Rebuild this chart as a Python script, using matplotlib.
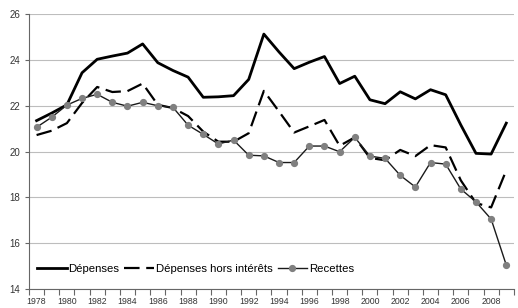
import matplotlib.pyplot as plt
import numpy as np

plt.rcParams['font.family'] = ['Liberation Sans', 'DejaVu Sans']

years = np.arange(1978, 2010)

depenses = [21.35, 21.68, 22.04, 23.44, 24.03, 24.17, 24.3, 24.7, 23.88, 23.54,
            23.25, 22.37, 22.39, 22.44, 23.15, 25.13, 24.35, 23.62, 23.9, 24.15,
            22.97, 23.29, 22.26, 22.09, 22.61, 22.3, 22.7, 22.48, 21.16, 19.92,
            19.89, 21.24]

hors_interets = [20.72, 20.91, 21.24, 22.12, 22.82, 22.6, 22.64, 22.97, 22.04, 21.9,
                 21.55, 20.87, 20.43, 20.43, 20.8, 22.65, 21.75, 20.83, 21.1, 21.38,
                 20.25, 20.62, 19.72, 19.62, 20.07, 19.8, 20.28, 20.18, 18.74, 17.75,
                 17.56, 19.18]

recettes = [21.06, 21.5, 22.03, 22.32, 22.5, 22.15, 21.98, 22.15, 22.0, 21.93,
            21.15, 20.75, 20.33, 20.5, 19.84, 19.81, 19.52, 19.52, 20.24, 20.24,
            19.99, 20.62, 19.8, 19.7, 18.96, 18.45, 19.52, 19.45, 18.36, 17.8,
            17.05, 15.04]

fig = plt.figure(figsize=(5.18, 3.08), dpi=100)
ax = fig.add_axes([0.056, 0.062, 0.936, 0.892])

ax.plot(years, depenses, color='black', lw=2.0, label='Dépenses', zorder=3)
ax.plot(years, hors_interets, color='black', lw=1.6, dashes=(7, 3),
        label='Dépenses hors intérêts', zorder=3)
ax.plot(years, recettes, color='#1a1a1a', lw=1.0, marker='o', markersize=4.2,
        markerfacecolor='#808080', markeredgecolor='#808080',
        label='Recettes', zorder=4)

ax.set_xlim(1977.5, 2009.5)
ax.set_ylim(14, 26)
ax.set_yticks(np.arange(14, 27, 2))
ax.yaxis.grid(True, color='#bdbdbd', lw=0.8)
ax.set_axisbelow(True)

# tick marks between categories, labels on every other year
ax.set_xticks(np.arange(1977.5, 2010, 1))
ax.set_xticklabels([])
ax.set_xticks(years[::2], minor=True)
ax.set_xticklabels([str(y) for y in years[::2]], minor=True)
ax.tick_params(axis='x', which='major', length=4, width=0.8, color='#666666')
ax.tick_params(axis='x', which='minor', length=0, pad=6, labelsize=6.3, labelcolor='#333333')
ax.tick_params(axis='y', length=3, width=0.8, color='#666666', labelsize=7,
               labelcolor='#333333')

for s in ['top', 'right']:
    ax.spines[s].set_visible(False)
for s in ['left', 'bottom']:
    ax.spines[s].set_color('#666666')
    ax.spines[s].set_linewidth(0.8)

ax.legend(loc='center left', bbox_to_anchor=(0.0, 0.074), ncol=3, frameon=False,
          fontsize=8.2, handlelength=2.6, handletextpad=0.15, columnspacing=0.45,
          borderaxespad=0.3)

fig.savefig('out.png', dpi=100)
